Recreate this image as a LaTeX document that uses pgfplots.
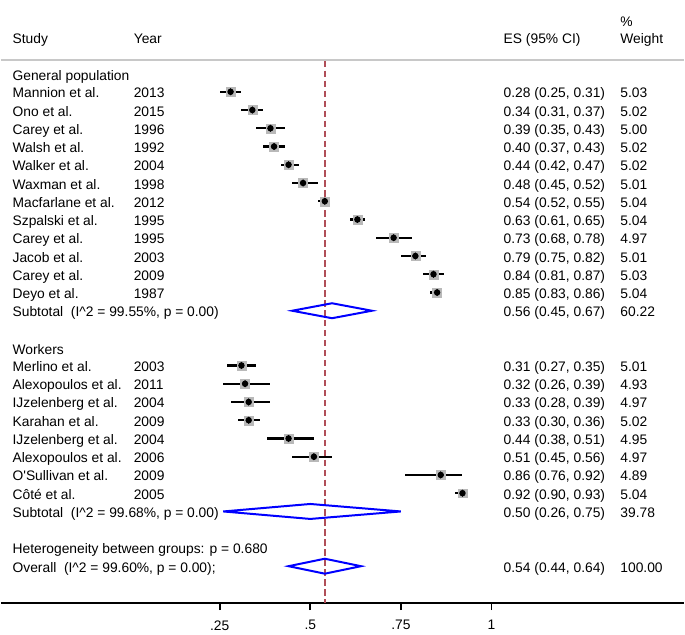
\documentclass[border=0pt]{standalone}
\usepackage{pgfplots}
\pgfplotsset{compat=1.18}
\usepackage{pgfplotstable}
\usepackage{fontspec}
\setmainfont{Liberation Sans}
\definecolor{refred}{RGB}{176,78,88}
\definecolor{hdrgray}{RGB}{200,200,200}
\definecolor{boxgray}{RGB}{185,185,185}

% k = row index (0 = first study), es, lo, hi
\pgfplotstableread{
k es lo hi
0 0.28 0.25 0.31
1 0.34 0.31 0.37
2 0.39 0.35 0.43
3 0.40 0.37 0.43
4 0.44 0.42 0.47
5 0.48 0.45 0.52
6 0.54 0.52 0.55
7 0.63 0.61 0.65
8 0.73 0.68 0.78
9 0.79 0.75 0.82
10 0.84 0.81 0.87
11 0.85 0.83 0.86
}\gen
\pgfplotstableread{
k es lo hi
15 0.31 0.27 0.35
16 0.32 0.26 0.39
17 0.33 0.28 0.39
18 0.33 0.30 0.36
19 0.44 0.38 0.51
20 0.51 0.45 0.56
21 0.86 0.76 0.92
22 0.92 0.90 0.93
}\wrk

\newcommand{\srow}[5]{%
 \node[anchor=base west, inner sep=0pt] at (axis cs:-0.322,{-(#1)-0.33}) {#2};
 \node[anchor=base west, inner sep=0pt] at (axis cs:0.0124,{-(#1)-0.33}) {#3};
 \node[anchor=base west, inner sep=0pt] at (axis cs:1.0333,{-(#1)-0.33}) {#4};
 \node[anchor=base west, inner sep=0pt] at (axis cs:1.3553,{-(#1)-0.33}) {#5};}
\newcommand{\lrow}[2]{%
 \node[anchor=base west, inner sep=0pt] at (axis cs:-0.322,{-(#1)-0.33}) {#2};}

\begin{document}
\begin{tikzpicture}[font=\fontsize{13.85}{16}\selectfont]
\begin{axis}[
  scale only axis, width=685pt, height=605pt,
  xmin=-0.3536, xmax=1.5314, ymin=-28.03, ymax=5.03,
  axis x line=bottom, axis y line=none,
  axis line style={-, black, line width=1.6pt},
  xtick={0.25,0.5,0.75,1}, xticklabels={{.25},{.5},{.75},{1}},
  tick align=outside, major tick length=7pt,
  tick style={black, line width=1.6pt},
  xticklabel style={inner sep=0pt, yshift=-10pt},
  clip=false,
  error bars/error bar style={line width=2.3pt, black},
]
% bounding helpers
\path (rel axis cs:0,1) -- (rel axis cs:1,1);
\path (rel axis cs:0,0) -- ++(0pt,-31pt);
% header rule
\draw[hdrgray, line width=2pt] (axis cs:-0.3536,1.75) -- (axis cs:1.5314,1.75);
% overall line
\addplot[refred, line width=1.7pt, dash pattern=on 6.5pt off 3.5pt] coordinates {(0.54,1.7) (0.54,-28.03)};

% weight boxes
\addplot[boxgray, only marks, mark=square*, mark size=4.5pt] table[x=es, y expr=-\thisrow{k}] {\gen};
\addplot[boxgray, only marks, mark=square*, mark size=4.5pt] table[x=es, y expr=-\thisrow{k}] {\wrk};
% CIs
\addplot[black, line width=2.3pt, only marks, mark=none, error bars/.cd, x dir=both, x explicit, error mark=none]
  table[x=es, y expr=-\thisrow{k}, x error plus expr=\thisrow{hi}-\thisrow{es}, x error minus expr=\thisrow{es}-\thisrow{lo}] {\gen};
\addplot[black, line width=2.3pt, only marks, mark=none, error bars/.cd, x dir=both, x explicit, error mark=none]
  table[x=es, y expr=-\thisrow{k}, x error plus expr=\thisrow{hi}-\thisrow{es}, x error minus expr=\thisrow{es}-\thisrow{lo}] {\wrk};
% point estimates
\addplot[black, only marks, mark=diamond*, mark size=3.3pt] table[x=es, y expr=-\thisrow{k}] {\gen};
\addplot[black, only marks, mark=diamond*, mark size=3.3pt] table[x=es, y expr=-\thisrow{k}] {\wrk};

% pooled diamonds
\addplot[blue, line width=2pt, line join=miter] coordinates {(0.45,-12) (0.56,-11.59) (0.67,-12) (0.56,-12.41)} -- cycle;
\addplot[blue, line width=2pt, line join=miter] coordinates {(0.26,-23) (0.50,-22.59) (0.75,-23) (0.50,-23.41)} -- cycle;
\addplot[blue, line width=2pt, line join=miter] coordinates {(0.44,-26) (0.54,-25.59) (0.64,-26) (0.54,-26.41)} -- cycle;

% header
\node[anchor=base west, inner sep=0pt] at (axis cs:-0.322,{2.95-0.33}) {Study};
\node[anchor=base west, inner sep=0pt] at (axis cs:0.0124,{2.95-0.33}) {Year};
\node[anchor=base west, inner sep=0pt] at (axis cs:1.0333,{2.95-0.33}) {ES (95\% CI)};
\node[anchor=base west, inner sep=0pt] at (axis cs:1.3553,{2.95-0.33}) {Weight};
\node[anchor=base west, inner sep=0pt] at (axis cs:1.3553,{3.9-0.33}) {\%};

\lrow{-0.95}{General population}
\srow{0}{Mannion et al.}{2013}{0.28 (0.25, 0.31)}{5.03}
\srow{1}{Ono et al.}{2015}{0.34 (0.31, 0.37)}{5.02}
\srow{2}{Carey et al.}{1996}{0.39 (0.35, 0.43)}{5.00}
\srow{3}{Walsh et al.}{1992}{0.40 (0.37, 0.43)}{5.02}
\srow{4}{Walker et al.}{2004}{0.44 (0.42, 0.47)}{5.02}
\srow{5}{Waxman et al.}{1998}{0.48 (0.45, 0.52)}{5.01}
\srow{6}{Macfarlane et al.}{2012}{0.54 (0.52, 0.55)}{5.04}
\srow{7}{Szpalski et al.}{1995}{0.63 (0.61, 0.65)}{5.04}
\srow{8}{Carey et al.}{1995}{0.73 (0.68, 0.78)}{4.97}
\srow{9}{Jacob et al.}{2003}{0.79 (0.75, 0.82)}{5.01}
\srow{10}{Carey et al.}{2009}{0.84 (0.81, 0.87)}{5.03}
\srow{11}{Deyo et al.}{1987}{0.85 (0.83, 0.86)}{5.04}
\srow{12}{Subtotal\ \ (I\textasciicircum 2 = 99.55\%, p = 0.00)}{}{0.56 (0.45, 0.67)}{60.22}

\lrow{14.05}{Workers}
\srow{15}{Merlino et al.}{2003}{0.31 (0.27, 0.35)}{5.01}
\srow{16}{Alexopoulos et al.}{2011}{0.32 (0.26, 0.39)}{4.93}
\srow{17}{IJzelenberg et al.}{2004}{0.33 (0.28, 0.39)}{4.97}
\srow{18}{Karahan et al.}{2009}{0.33 (0.30, 0.36)}{5.02}
\srow{19}{IJzelenberg et al.}{2004}{0.44 (0.38, 0.51)}{4.95}
\srow{20}{Alexopoulos et al.}{2006}{0.51 (0.45, 0.56)}{4.97}
\srow{21}{O\textquotesingle Sullivan et al.}{2009}{0.86 (0.76, 0.92)}{4.89}
\srow{22}{Côté et al.}{2005}{0.92 (0.90, 0.93)}{5.04}
\srow{23}{Subtotal\ \ (I\textasciicircum 2 = 99.68\%, p = 0.00)}{}{0.50 (0.26, 0.75)}{39.78}

\lrow{25}{Heterogeneity between groups: p = 0.680}
\srow{26}{Overall\ \ (I\textasciicircum 2 = 99.60\%, p = 0.00);}{}{0.54 (0.44, 0.64)}{100.00}
\end{axis}
\end{tikzpicture}
\end{document}
